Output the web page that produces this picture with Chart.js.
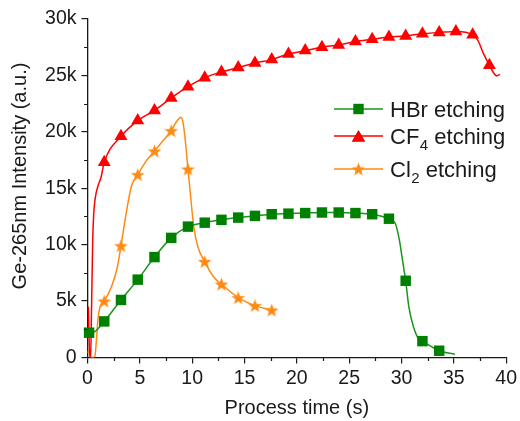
<!DOCTYPE html>
<html>
<head>
<meta charset="utf-8">
<script src="https://cdn.jsdelivr.net/npm/chart.js@4.4.0/dist/chart.umd.min.js"></script>
<style>
  html, body { margin: 0; padding: 0; background: #fff; }
  #wrap { width: 520px; height: 421px; }
</style>
</head>
<body>
<div id="wrap"><canvas id="geChart" width="520" height="421"></canvas></div>
<script>
// ======= Datos =======
const xMin = 0, xMax = 40, xStep = 5;
const yMin = 0, yMax = 30000, yStep = 5000;

// HBr etching (marcadores cuadrados)
const hbrMarkTime  = [0.15, 1.6, 3.2, 4.8, 6.4, 8.0, 9.6, 11.2, 12.8, 14.4, 16.0, 17.6, 19.2, 20.8, 22.4, 24.0, 25.6, 27.2, 28.8, 30.4, 32.0, 33.6];
const hbrMarkValue = [2200, 3200, 5100, 6900, 8900, 10600, 11600, 11950, 12200, 12400, 12550, 12700, 12750, 12800, 12850, 12850, 12800, 12700, 12300, 6800, 1450, 600];
const hbrLineTime  = [0.15, 0.7, 1.6, 3.2, 4.8, 6.4, 8.0, 9.6, 11.2, 12.8, 14.4, 16.0, 17.6, 19.2, 20.8, 22.4, 24.0, 25.6, 27.2, 28.8, 29.4, 29.8, 30.1, 30.4, 30.7, 31.15, 31.6, 32.0, 33.6, 35.1];
const hbrLineValue = [2200, 2300, 3200, 5100, 6900, 8900, 10600, 11600, 11950, 12200, 12400, 12550, 12700, 12750, 12800, 12850, 12850, 12800, 12700, 12300, 11900, 10400, 8600, 6800, 4500, 2700, 1700, 1450, 600, 280];

// CF4 etching (marcadores triangulares)
const cf4MarkTime  = [1.6, 3.2, 4.8, 6.4, 8.0, 9.6, 11.2, 12.8, 14.4, 16.0, 17.6, 19.2, 20.8, 22.4, 24.0, 25.6, 27.2, 28.8, 30.4, 32.0, 33.6, 35.2, 36.8, 38.4];
const cf4MarkValue = [17300, 19600, 21000, 21900, 23000, 24000, 24800, 25300, 25700, 26100, 26400, 26900, 27200, 27500, 27700, 28000, 28200, 28400, 28500, 28700, 28800, 28900, 28600, 25900];
const cf4LineTime  = [0.08, 0.22, 0.3, 0.38, 0.5, 0.6, 0.75, 1.0, 1.3, 1.6, 3.2, 4.8, 6.4, 8.0, 9.6, 11.2, 12.8, 14.4, 16.0, 17.6, 19.2, 20.8, 22.4, 24.0, 25.6, 27.2, 28.8, 30.4, 32.0, 33.6, 35.2, 36.8, 37.3, 37.8, 38.4, 38.9, 39.1, 39.4];
const cf4LineValue = [4500, 0, 0, 4000, 10500, 12800, 14200, 15200, 16000, 17300, 19600, 21000, 21900, 23000, 24000, 24800, 25300, 25700, 26100, 26400, 26900, 27200, 27500, 27700, 28000, 28200, 28400, 28500, 28700, 28800, 28900, 28600, 28100, 27000, 25900, 25100, 24950, 25100];

// Cl2 etching (marcadores de estrella)
const cl2MarkTime  = [1.6, 3.2, 4.8, 6.4, 8.0, 9.6, 11.2, 12.8, 14.4, 16.0, 17.6];
const cl2MarkValue = [5000, 9900, 16200, 18300, 20100, 16700, 8500, 6500, 5300, 4600, 4200];
const cl2LineTime  = [0, 0.1, 0.25, 0.45, 0.7, 0.85, 1.0, 1.2, 1.6, 2.3, 2.8, 3.2, 3.7, 4.2, 4.8, 5.6, 6.4, 7.2, 8.0, 8.5, 8.95, 9.15, 9.37, 9.6, 9.86, 10.15, 10.55, 11.2, 12.0, 12.8, 14.4, 16.0, 17.6];
const cl2LineValue = [400, 600, 150, 0, 100, 1500, 3400, 4500, 5000, 6300, 7800, 9900, 12800, 15200, 16200, 17400, 18300, 19200, 20100, 20900, 21300, 20700, 19000, 16700, 14200, 11600, 9800, 8500, 7200, 6500, 5300, 4600, 4200];

// ======= Colores =======
const verde = '#008000', verdeLinea = '#1a961a';
const rojo = '#ff0000';
const naranja = '#ff8a12';
const negro = '#1a1a1a';

function puntos(xs, ys) {
    return xs.map((x, i) => ({ x: x, y: ys[i] }));
}

// Estrella de cinco puntas como imagen para pointStyle
function crearEstrella(radio, color) {
    const c = document.createElement('canvas');
    const s = Math.ceil(radio * 2 + 2);
    c.width = s; c.height = s;
    const g = c.getContext('2d');
    g.translate(s / 2, s / 2 + 0.6);
    g.beginPath();
    for (let i = 0; i < 10; i++) {
        const r = i % 2 === 0 ? radio : radio * 0.42;
        const a = -Math.PI / 2 + i * Math.PI / 5;
        g.lineTo(Math.cos(a) * r, Math.sin(a) * r);
    }
    g.closePath();
    g.fillStyle = color;
    g.fill();
    return c;
}
const estrella = crearEstrella(7.2, naranja);

// ======= Plugin: ticks menores, títulos de ejes y leyenda =======
const extras = {
    id: 'extras',
    afterDraw(chart) {
        const ctx = chart.ctx;
        const xs = chart.scales.x, ys = chart.scales.y;
        const area = chart.chartArea;
        ctx.save();
        ctx.strokeStyle = negro;
        ctx.lineWidth = 1.2;
        ctx.beginPath();
        for (let v = xMin + xStep / 2; v < xMax; v += xStep) {
            const px = Math.round(xs.getPixelForValue(v)) + 0.5;
            ctx.moveTo(px, area.bottom);
            ctx.lineTo(px, area.bottom + 3.5);
        }
        for (let v = yMin + yStep / 2; v < yMax; v += yStep) {
            const py = Math.round(ys.getPixelForValue(v)) + 0.5;
            ctx.moveTo(area.left, py);
            ctx.lineTo(area.left - 3.5, py);
        }
        ctx.stroke();

        // títulos de ejes
        ctx.fillStyle = negro;
        ctx.font = '20px "Liberation Sans", Arial, sans-serif';
        ctx.textAlign = 'center';
        ctx.textBaseline = 'alphabetic';
        ctx.fillText('Process time (s)', (area.left + area.right) / 2, 414);
        ctx.save();
        ctx.translate(25.5, 176);
        ctx.rotate(-Math.PI / 2);
        ctx.fillText('Ge-265nm Intensity (a.u.)', 0, 0);
        ctx.restore();

        // leyenda
        const filas = [
            { y: 109, color: verdeLinea, marca: 'rect', texto: 'HBr', sub: '', resto: ' etching' },
            { y: 136, color: rojo, marca: 'triangle', texto: 'CF', sub: '4', resto: ' etching' },
            { y: 169, color: naranja, marca: 'star', texto: 'Cl', sub: '2', resto: ' etching' }
        ];
        filas.forEach(f => {
            ctx.strokeStyle = f.color;
            ctx.lineWidth = 1.5;
            ctx.beginPath();
            ctx.moveTo(334, f.y);
            ctx.lineTo(383, f.y);
            ctx.stroke();
            if (f.marca === 'rect') {
                ctx.fillStyle = verde;
                ctx.fillRect(358.5 - 5.2, f.y - 5.2, 10.4, 10.4);
            } else if (f.marca === 'triangle') {
                Chart.helpers.drawPoint(ctx, { pointStyle: 'triangle', radius: 7.5, borderWidth: 0 }, 358.5, f.y + 1.8);
                ctx.fillStyle = rojo;
                ctx.fill();
            } else {
                ctx.drawImage(estrella, 358.5 - estrella.width / 2, f.y - estrella.height / 2);
            }
            ctx.fillStyle = negro;
            ctx.textAlign = 'left';
            ctx.font = '22px "Liberation Sans", Arial, sans-serif';
            const base = f.y + 8;
            let x = 390;
            ctx.fillText(f.texto, x, base);
            x += ctx.measureText(f.texto).width;
            if (f.sub) {
                ctx.font = '15px "Liberation Sans", Arial, sans-serif';
                ctx.fillText(f.sub, x + 0.5, base + 6);
                x += ctx.measureText(f.sub).width + 0.5;
                ctx.font = '22px "Liberation Sans", Arial, sans-serif';
            }
            ctx.fillText(f.resto, x, base);
        });
        ctx.restore();
    }
};

// ======= Gráfico =======
const ctx = document.getElementById('geChart').getContext('2d');
const chart = new Chart(ctx, {
    type: 'scatter',
    data: {
        datasets: [
            { data: puntos(hbrLineTime, hbrLineValue), showLine: true, borderColor: verdeLinea, borderWidth: 1.5, pointRadius: 0, cubicInterpolationMode: 'monotone', order: 3 },
            { data: puntos(hbrMarkTime, hbrMarkValue), showLine: false, pointStyle: 'rect', pointRadius: 7.4, backgroundColor: verde, borderColor: verde, borderWidth: 0, clip: false, order: 1 },
            { data: puntos(cf4LineTime, cf4LineValue), showLine: true, borderColor: rojo, borderWidth: 1.5, pointRadius: 0, cubicInterpolationMode: 'monotone', order: 3 },
            { data: puntos(cf4MarkTime, cf4MarkValue), showLine: false, pointStyle: 'triangle', pointRadius: 7.5, backgroundColor: rojo, borderColor: rojo, borderWidth: 0, clip: false, order: 1 },
            { data: puntos(cl2LineTime, cl2LineValue), showLine: true, borderColor: naranja, borderWidth: 1.5, pointRadius: 0, cubicInterpolationMode: 'monotone', order: 3 },
            { data: puntos(cl2MarkTime, cl2MarkValue), showLine: false, pointStyle: estrella, pointRadius: 7, backgroundColor: naranja, clip: false, order: 1 }
        ]
    },
    options: {
        responsive: false,
        animation: false,
        layout: { padding: { top: 19, right: 11.5, left: 0, bottom: 0 } },
        plugins: {
            legend: { display: false },
            tooltip: { enabled: false }
        },
        scales: {
            x: {
                type: 'linear',
                min: xMin, max: xMax,
                afterFit: s => { s.height = 421 - 357.5; },
                border: { display: true, color: negro, width: 1.3 },
                grid: { drawOnChartArea: false, drawTicks: true, tickLength: 6, color: negro, lineWidth: 1.2 },
                ticks: { stepSize: xStep, color: negro, padding: 3, maxRotation: 0, font: { family: '"Liberation Sans", Arial, sans-serif', size: 19.5 } }
            },
            y: {
                type: 'linear',
                min: yMin, max: yMax,
                afterFit: s => { s.width = 87.5; },
                border: { display: true, color: negro, width: 1.3 },
                grid: { drawOnChartArea: false, drawTicks: true, tickLength: 6, color: negro, lineWidth: 1.2 },
                ticks: {
                    stepSize: yStep, color: negro, padding: 5,
                    font: { family: '"Liberation Sans", Arial, sans-serif', size: 19.5 },
                    callback: v => v === 0 ? '0' : (v / 1000) + 'k'
                }
            }
        }
    },
    plugins: [extras]
});
</script>
</body>
</html>
